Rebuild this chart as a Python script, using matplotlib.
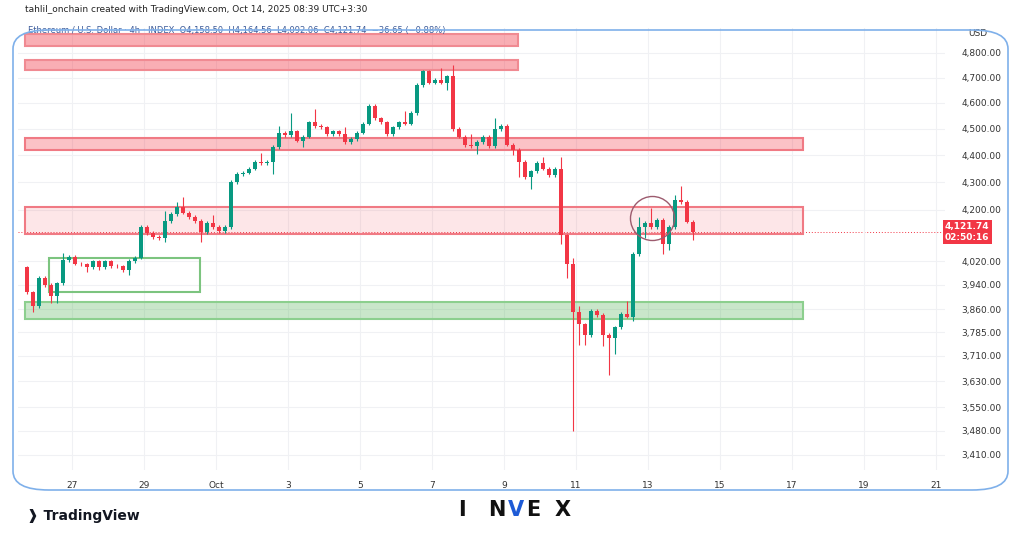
import matplotlib
matplotlib.use("Agg")
import matplotlib.pyplot as plt
from matplotlib.patches import FancyBboxPatch, Rectangle
import numpy as np

closes = [3915,3870,3965,3940,3903,3945,4025,4035,4012,4010,4000,4020,4000,4020,4005,4003,3990,4022,4033,4140,
          4118,4105,4100,4160,4185,4210,4190,4175,4160,4120,4155,4140,4125,4140,4300,4330,4335,4350,4375,4370,
          4375,4430,4485,4475,4490,4455,4470,4525,4510,4505,4480,4490,4480,4450,4462,4485,4520,4590,4540,4525,
          4480,4505,4525,4520,4560,4670,4725,4680,4690,4680,4705,4500,4470,4440,4433,4450,4470,4435,4500,4510,
          4440,4420,4375,4320,4340,4370,4350,4325,4350,4110,4010,3850,3810,3775,3855,3840,3775,3765,3800,3845,
          3835,4045,4140,4155,4140,4165,4080,4140,4235,4228,4158.5,4121.74]
first_open = 4000
high_over = {0:4003,6:4048,23:4195,25:4230,26:4245,31:4180,39:4410,42:4510,44:4560,48:4575,53:4505,63:4570,
             69:4740,71:4750,74:4480,78:4540,86:4395,89:4395,91:4030,92:3870,100:3885,102:4175,104:4205,
             108:4255,109:4285,111:4164.56}
low_over = {1:3850,4:3880,5:3880,10:3985,12:3990,17:3975,23:4085,29:4085,41:4330,46:4430,70:4650,73:4430,
            75:4405,81:4400,82:4320,84:4275,89:4080,90:3965,91:3480,92:3745,93:3745,96:3740,97:3650,98:3715,
            101:3820,103:4100,106:4045,107:4060,111:4092.06}
last_price = 4121.74
yticks = [3410,3480,3550,3630,3710,3785,3860,3940,4020,4200,4300,4400,4500,4600,4700,4800]
xtick_days = [0,2,4,6,8,10,12,14,16,18,20,22,24]
xtick_labels = ["27","29","Oct","3","5","7","9","11","13","15","17","19","21"]

GREEN = "#089981"; RED = "#F23645"

fig = plt.figure(figsize=(10.24,5.38), dpi=100)
ax = fig.add_axes([18/1024, 1-470/538, (945-18)/1024, (470-28)/538])
ax.set_yscale("log")

n = len(closes)
opens = [first_open] + closes[:-1]
t = (np.arange(n) - 8) / 6.0 + 1/12
for i in range(n):
    o, c = opens[i], closes[i]
    h = high_over.get(i, max(o, c) * 1.0015)
    l = low_over.get(i, min(o, c) * 0.9985)
    col = GREEN if c >= o else RED
    ax.vlines(t[i], l, h, color=col, lw=0.8, zorder=3)
    bot, top = min(o, c), max(o, c)
    if top - bot < 2: top = bot + 2
    ax.bar(t[i], top - bot, bottom=bot, width=0.11, color=col, zorder=4, linewidth=0)

def zone(x0, x1, y0, y1, face, edge, alpha=0.35, fill=True):
    fc = matplotlib.colors.to_rgba(face, alpha) if fill else "none"
    r = Rectangle((x0, y0), x1 - x0, y1 - y0, facecolor=fc, edgecolor=edge, lw=1.5, zorder=2)
    ax.add_patch(r)

zone(-1.3, 12.4, 4829, 4878, "#F23645", "#f08a92", 0.4)
zone(-1.3, 12.4, 4732, 4772, "#F23645", "#f08a92", 0.4)
zone(-1.3, 20.3, 4420, 4465, "#F23645", "#f07a84", 0.3)
zone(-1.3, 20.3, 4115, 4211, "#F23645", "#f07a84", 0.12)
zone(-0.65, 3.55, 3917, 4030, "#4caf50", "#7cc47f", fill=False)
zone(-1.3, 20.3, 3827, 3883, "#4caf50", "#8ccf8e", 0.3)

ax.plot([16.1], [4172], "o", ms=31.7, mfc="none", mec="#9c5b6e", mew=1.0, zorder=5)
ax.axhline(last_price, color=RED, lw=0.7, ls=(0, (1, 2)), zorder=1)

ax.set_xlim(-1.5, 24.25)
ax.set_ylim(3366, 4903)
ax.yaxis.tick_right()
ax.set_yticks(yticks)
ax.set_yticklabels([f"{v:,.2f}" for v in yticks])
ax.yaxis.set_minor_locator(matplotlib.ticker.NullLocator())
ax.set_xticks(xtick_days)
ax.set_xticklabels(xtick_labels)
ax.tick_params(axis="both", length=0, labelsize=6.5, colors="#333333")
ax.tick_params(axis="y", pad=12)
ax.tick_params(axis="x", pad=8)
ax.grid(True, color="#f0f1f4", lw=0.8)
for s in ax.spines.values():
    s.set_visible(False)

ax.text(1.0, last_price, f"{last_price:,.2f}\n02:50:16", transform=ax.get_yaxis_transform(),
        ha="left", va="center", fontsize=6.5, color="white", fontweight="bold",
        bbox=dict(boxstyle="square,pad=0.25", fc=RED, ec="none"), zorder=6)
ax.text(1.025, 4880, "USD", transform=ax.get_yaxis_transform(), fontsize=6.5, color="#333", va="center")

fig.text(25/1024, 1-10/538, "tahlil_onchain created with TradingView.com, Oct 14, 2025 08:39 UTC+3:30",
         fontsize=6.5, color="#222", va="center")
fig.text(28/1024, 1-30/538, "Ethereum / U.S. Dollar · 4h · INDEX  O4,158.50  H4,164.56  L4,092.06  C4,121.74  −36.65 (−0.88%)",
         fontsize=6, color="#3b5b9a", va="center")

frame = FancyBboxPatch((13/1024, 1-490/538), (1008-13)/1024, (490-30)/538,
                       boxstyle="round,pad=0,rounding_size=0.035", transform=fig.transFigure,
                       fc="none", ec="#7fb0ea", lw=1.2, zorder=10)
fig.patches.append(frame)

fig.text(27/1024, 1-516/538, "\u2771 TradingView", fontsize=10, fontweight="bold", color="#131722", va="center")
for ch, xx, c in zip("INVEX", [462, 497, 516, 533, 563], ["#111", "#111", "#1e5bd6", "#111", "#111"]):
    fig.text(xx/1024, 1-510/538, ch, fontsize=15, fontweight="bold", color=c, va="center", ha="center")

fig.savefig("out.png", dpi=100, facecolor="white")
